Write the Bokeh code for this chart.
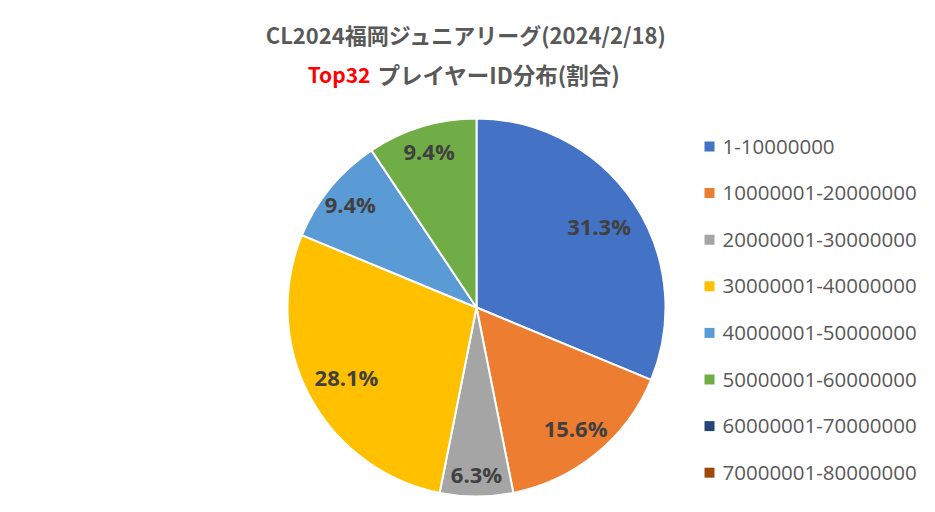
import math
from decimal import Decimal, ROUND_HALF_UP
from bokeh.plotting import figure
from bokeh.models import Range1d, ColumnDataSource
from bokeh.core.properties import value
from bokeh.embed import file_html
from bokeh.resources import INLINE

# ---- data ----
categories = ["1-10000000", "10000001-20000000", "20000001-30000000", "30000001-40000000",
              "40000001-50000000", "50000001-60000000", "60000001-70000000", "70000001-80000000"]
counts = [10, 5, 2, 9, 3, 3, 0, 0]
colors = ["#4472C4", "#ED7D31", "#A5A5A5", "#FFC000", "#5B9BD5", "#70AD47", "#264478", "#9E480E"]
title_line1 = "CL2024福岡ジュニアリーグ(2024/2/18)"
title_red = "Top32"
title_rest = "プレイヤーID分布(割合)"

W, H = 919, 496
p = figure(width=W, height=H, output_backend="svg", toolbar_location=None,
           x_range=Range1d(0, W), y_range=Range1d(0, H), min_border=0)
p.axis.visible = False
p.grid.visible = False
p.outline_line_color = None
p.background_fill_color = "white"
p.border_fill_color = "white"

cx, cy, r = 476, 189, 189
total = sum(counts)
starts, ends, lx, ly, lab, cols = [], [], [], [], [], []
cum = 0.0
for c, col in zip(counts, colors):
    share = c / total
    if c > 0:
        a0 = math.pi / 2 - 2 * math.pi * cum
        a1 = math.pi / 2 - 2 * math.pi * (cum + share)
        starts.append(a0); ends.append(a1); cols.append(col)
        mid = (a0 + a1) / 2
        d = r * max(0.78, 0.92 - 0.6 * share)
        lx.append(cx + d * math.cos(mid)); ly.append(cy + d * math.sin(mid))
        pct = Decimal(c * 100) / Decimal(total)
        lab.append(f"{pct.quantize(Decimal('0.1'), rounding=ROUND_HALF_UP)}%")
    cum += share

src = ColumnDataSource(dict(s=starts, e=ends, c=cols))
p.wedge(x=cx, y=cy, radius=r, start_angle="s", end_angle="e", direction="clock",
        fill_color="c", line_color="white", line_width=2, source=src)

p.text(x=lx, y=ly, text=lab, text_align="center", text_baseline="middle",
       text_font=value("Open Sans"), text_font_style="bold", text_font_size="22px",
       text_color="#404040")

# title
p.text(x=[466], y=[463], text=[title_line1], text_align="center", text_baseline="middle",
       text_font=value("Noto Sans CJK JP"), text_font_style="bold", text_font_size="22px",
       text_color="#595959")
p.text(x=[370], y=[423], text=[title_red], text_align="right", text_baseline="middle",
       text_font=value("Noto Sans CJK JP"), text_font_style="bold", text_font_size="21px",
       text_color="#FF0000")
p.text(x=[377], y=[423], text=[title_rest], text_align="left", text_baseline="middle",
       text_font=value("Noto Sans CJK JP"), text_font_style="bold", text_font_size="22.5px",
       text_color="#595959")

# legend
ly0, dy = 350, 46.6
leg_y = [ly0 - i * dy for i in range(len(categories))]
p.scatter(x=[709] * len(categories), y=leg_y, marker="square", size=10,
          fill_color=colors, line_color=None)
p.text(x=[722] * len(categories), y=leg_y, text=categories, text_align="left",
       text_baseline="middle", text_font=value("Open Sans"), text_font_size="20.5px",
       text_color="#595959")

open("out.html", "w").write(file_html(p, INLINE))
